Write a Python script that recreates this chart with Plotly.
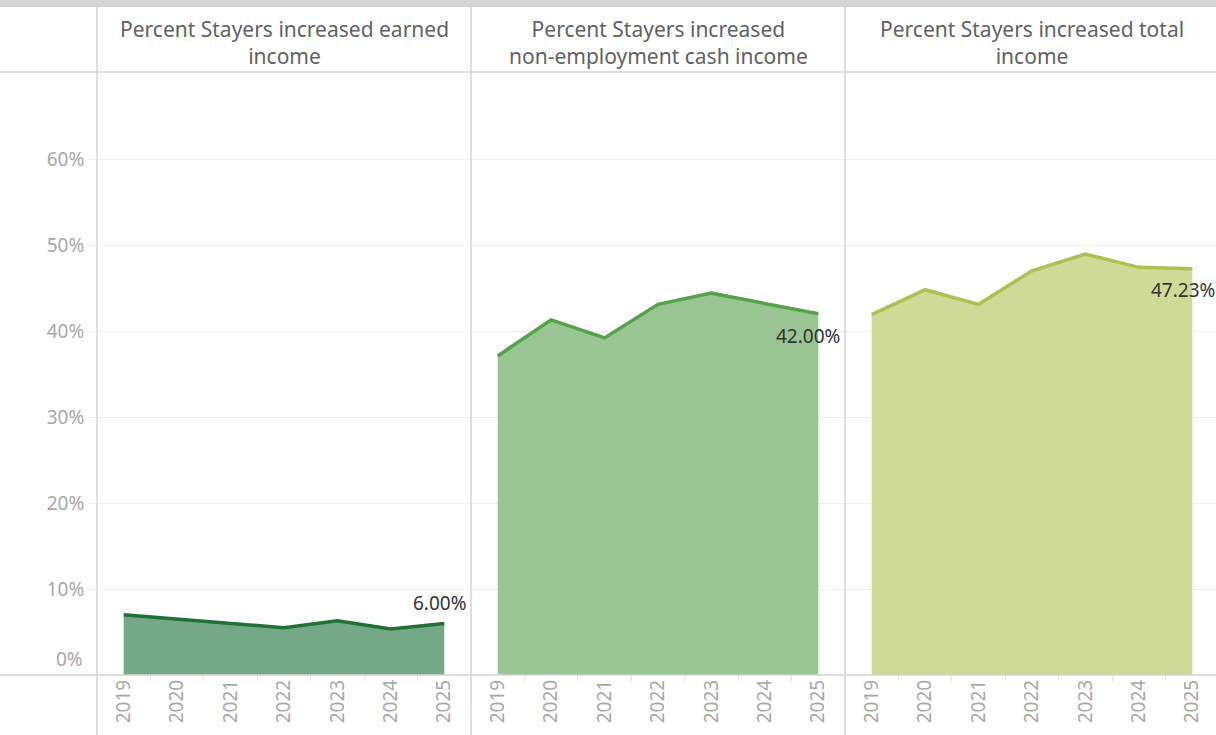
import plotly.graph_objects as go

years = [2019, 2020, 2021, 2022, 2023, 2024, 2025]
titles = [
    "Percent Stayers increased earned<br>income",
    "Percent Stayers increased<br>non-employment cash income",
    "Percent Stayers increased total<br>income",
]
earned = [7.0, 6.5, 6.0, 5.5, 6.3, 5.35, 6.0]
non_emp = [37.1, 41.3, 39.2, 43.1, 44.4, 43.2, 42.0]
total = [41.9, 44.8, 43.1, 47.0, 48.95, 47.4, 47.23]
end_labels = ["6.00%", "42.00%", "47.23%"]
y_ticks = [0, 10, 20, 30, 40, 50, 60]

series = [earned, non_emp, total]
line_colors = ["#1f7138", "#55a24a", "#adc152"]
fill_colors = ["rgba(116,168,134,1)", "rgba(152,197,146,1)", "rgba(207,218,151,1)"]

W, H = 1216, 735
L, R, T, B = 97, 0, 72, 60
pw = W - L - R
ph = H - T - B

def px_x(p):
    return (p - L) / pw

def px_y(p):
    return (H - B - p) / ph

panel_px = [(97, 471), (471, 845), (845, 1216)]
unit = 374 / 7.0

fig = go.Figure()
for i, vals in enumerate(series):
    xa = "x" if i == 0 else f"x{i+1}"
    fig.add_trace(go.Scatter(
        x=years, y=vals, mode="lines", xaxis=xa, yaxis="y",
        line=dict(color=line_colors[i], width=3.5),
        fill="tozeroy", fillcolor=fill_colors[i], hoverinfo="skip",
        showlegend=False,
    ))

grey_tick = "#a8a8a8"
font_family = "Noto Sans, Lato, sans-serif"
for i, (a, b) in enumerate(panel_px):
    width_units = (b - a) / unit
    ax = dict(
        domain=[px_x(a), px_x(b)],
        range=[2018.5, 2018.5 + width_units],
        tickmode="array", tickvals=years, ticktext=[str(y) for y in years],
        tickangle=-90, ticks="", showgrid=False, zeroline=False,
        showline=False,
        tickfont=dict(family=font_family, size=19, color=grey_tick),
        minor=dict(tickmode="array", tickvals=[y + 0.5 for y in years[:-1]],
                   ticks="outside", ticklen=5, tickcolor="#e4e4e4", tickwidth=1,
                   showgrid=False),
        anchor="y", fixedrange=True,
    )
    key = "xaxis" if i == 0 else f"xaxis{i+1}"
    fig.update_layout(**{key: ax})

fig.update_layout(
    yaxis=dict(
        range=[0, (H - B - T) / 8.6], tickmode="array",
        tickvals=y_ticks[1:], ticktext=[f"{v}%" for v in y_ticks[1:]],
        showgrid=True, gridcolor="#efefef", gridwidth=1,
        zeroline=False, showline=False,
        ticks="outside", ticklen=8, tickcolor="#efefef",
        tickfont=dict(family=font_family, size=19, color=grey_tick),
        fixedrange=True,
    ),
    width=W, height=H,
    margin=dict(l=L, r=R, t=T, b=B),
    plot_bgcolor="white", paper_bgcolor="white",
)

annotations = []
# zero label (Tableau lifts it above the baseline)
annotations.append(dict(x=0, y=0, xref="paper", yref="y", text=f"{y_ticks[0]}%",
                        showarrow=False, xanchor="right", yanchor="bottom",
                        xshift=-12, yshift=1,
                        font=dict(family=font_family, size=19, color=grey_tick)))
# headers
for i, (a, b) in enumerate(panel_px):
    annotations.append(dict(
        x=px_x((a + a + 374) / 2), y=px_y(42),
        xref="paper", yref="paper", text=titles[i], showarrow=False,
        xanchor="center", yanchor="middle", align="center",
        font=dict(family=font_family, size=21, color="#626262"),
    ))
# end labels
shifts = [(-4, 20), (-10, -22), (-9, -21)]
for i, vals in enumerate(series):
    xa = "x" if i == 0 else f"x{i+1}"
    annotations.append(dict(
        x=years[-1], y=vals[-1], xref=xa, yref="y", text=end_labels[i],
        showarrow=False, xanchor="center", yanchor="middle",
        xshift=shifts[i][0], yshift=shifts[i][1],
        font=dict(family=font_family, size=19, color="#333333"),
    ))
fig.update_layout(annotations=annotations)

shapes = []
line_col = "#d3d3d3"
# top band
shapes.append(dict(type="rect", xref="paper", yref="paper", x0=px_x(0), x1=px_x(W),
                   y0=px_y(7), y1=px_y(0), fillcolor="#d4d4d4", line=dict(width=0),
                   layer="above"))
# horizontal header line and baseline
for yy in (72, 675):
    shapes.append(dict(type="line", xref="paper", yref="paper", x0=px_x(0), x1=px_x(W),
                       y0=px_y(yy), y1=px_y(yy), line=dict(color=line_col, width=1.5),
                       layer="above"))
# vertical panel separators
for xx in (97, 471, 845):
    shapes.append(dict(type="line", xref="paper", yref="paper", x0=px_x(xx), x1=px_x(xx),
                       y0=px_y(H), y1=px_y(7), line=dict(color=line_col, width=1.5),
                       layer="above"))
fig.update_layout(shapes=shapes)

fig.write_html("out.html", config={"displayModeBar": False},
               post_script="document.body.style.margin='0';document.body.style.overflow='hidden';")
